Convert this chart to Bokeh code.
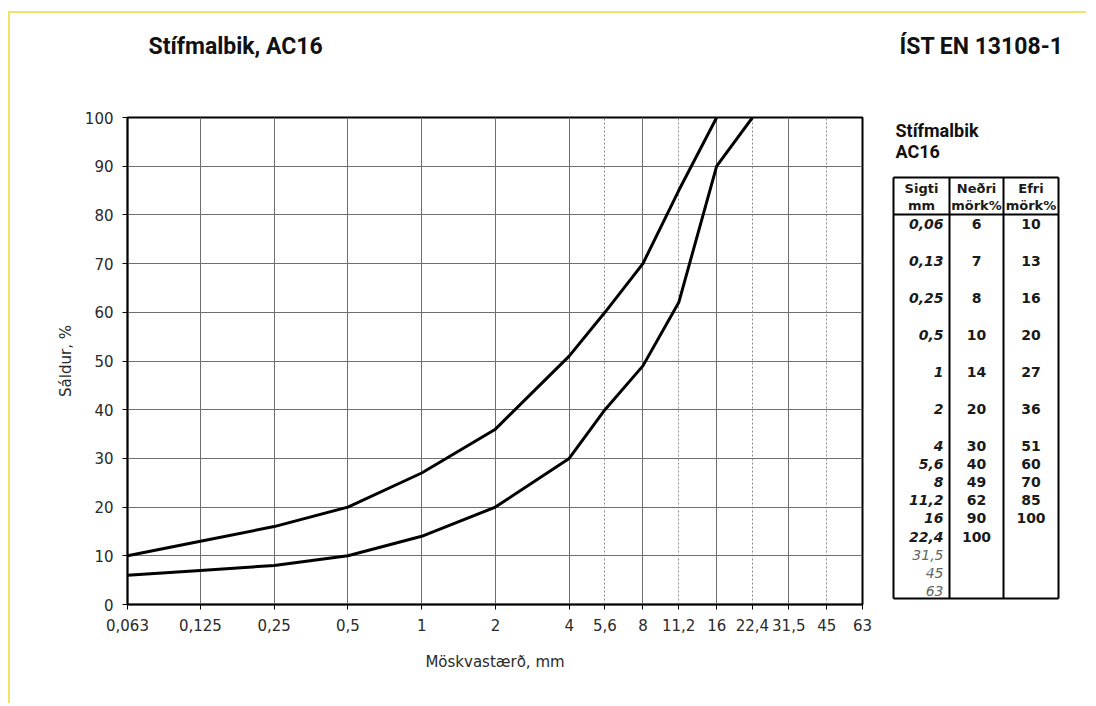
from bokeh.plotting import figure
from bokeh.models import Range1d, FixedTicker, Grid, Title
from bokeh.layouts import row
from bokeh.embed import file_html
from bokeh.resources import INLINE
from bokeh.core.properties import value

# ---------------- data ----------------
sieve_ticks = [0.063, 0.125, 0.25, 0.5, 1, 2, 4, 5.6, 8, 11.2, 16, 22.4, 31.5, 45, 63]
sieve_tick_labels = ["0,063", "0,125", "0,25", "0,5", "1", "2", "4", "5,6", "8",
                     "11,2", "16", "22,4", "31,5", "45", "63"]
dashed_ticks = [5.6, 11.2, 22.4, 45]
y_ticks = [0, 10, 20, 30, 40, 50, 60, 70, 80, 90, 100]

lower_sieve = [0.063, 0.125, 0.25, 0.5, 1, 2, 4, 5.6, 8, 11.2, 16, 22.4]
lower_pass = [6, 7, 8, 10, 14, 20, 30, 40, 49, 62, 90, 100]
upper_sieve = [0.063, 0.125, 0.25, 0.5, 1, 2, 4, 5.6, 8, 11.2, 16]
upper_pass = [10, 13, 16, 20, 27, 36, 51, 60, 70, 85, 100]

table_sieve_labels = ["0,06", "0,13", "0,25", "0,5", "1", "2", "4", "5,6", "8",
                      "11,2", "16", "22,4", "31,5", "45", "63"]
table_header_1 = ["Sigti", "Neðri", "Efri"]
table_header_2 = ["mm", "mörk%", "mörk%"]

title_text = "Stífmalbik, AC16"
standard_text = "ÍST EN 13108-1"
table_title = ["Stífmalbik", "AC16"]

TITLE_FONT = "Roboto"
FONT = "DejaVu Sans"
INK = "#1a1a1a"
TICK_INK = "#2a2a2a"
YELLOW = "#eee46a"

# ---------------- layout constants (page pixels) ----------------
PAGE_LEFT, PAGE_TOP = 10, 13          # where the figures start (after margin + border)
FRAME_L, FRAME_R, FRAME_T, FRAME_B = 127, 862, 117, 604
H = 690
CHART_W = 868
TABLE_W = 208


def add_titles(fig, text, align, offset):
    # spacer closest to the frame, then the real title further out
    fig.add_layout(Title(text=" ", text_font_size="10px", standoff=44), "above")
    fig.add_layout(Title(text=text, align=align, offset=offset, standoff=0,
                         vertical_align="middle", text_font=TITLE_FONT,
                         text_font_size="23px", text_font_style="bold",
                         text_color="#111111"), "above")


# ---------------- chart ----------------
p = figure(width=CHART_W, height=H, x_axis_type="log",
           x_range=Range1d(0.063, 63), y_range=Range1d(0, 100),
           output_backend="svg", toolbar_location=None,
           min_border_left=FRAME_L - PAGE_LEFT,
           min_border_right=PAGE_LEFT + CHART_W - FRAME_R,
           min_border_top=FRAME_T - PAGE_TOP,
           min_border_bottom=PAGE_TOP + H - FRAME_B)
p.background_fill_color = "white"
p.border_fill_color = "white"
p.outline_line_color = "black"
p.outline_line_width = 2
p.outline_line_alpha = 1
add_titles(p, title_text, "left", 21)

p.xaxis.ticker = FixedTicker(ticks=sieve_ticks)
p.xaxis.major_label_overrides = {t: l for t, l in zip(sieve_ticks, sieve_tick_labels)}
p.yaxis.ticker = FixedTicker(ticks=y_ticks)

for ax in (p.xaxis, p.yaxis):
    ax.major_tick_out = 5
    ax.major_tick_in = 0
    ax.minor_tick_out = 0
    ax.minor_tick_in = 0
    ax.axis_line_color = "black"
    ax.axis_line_width = 1.5
    ax.major_tick_line_color = "black"
    ax.major_tick_line_width = 1
    ax.major_label_text_font = FONT
    ax.major_label_text_font_size = "15px"
    ax.major_label_text_color = TICK_INK
    ax.major_label_standoff = 9
    ax.axis_label_text_font = FONT
    ax.axis_label_text_font_size = "15px"
    ax.axis_label_text_font_style = "normal"
    ax.axis_label_text_color = TICK_INK

p.xaxis.axis_label = "Möskvastærð, mm"
p.yaxis.axis_label = "Sáldur, %"
p.xaxis.axis_label_standoff = 19
p.yaxis.axis_label_standoff = 7

solid_ticks = [t for t in sieve_ticks if t not in dashed_ticks]
p.xgrid.ticker = FixedTicker(ticks=solid_ticks)
p.xgrid.grid_line_color = "#6f6f6f"
p.xgrid.grid_line_width = 1
p.ygrid.ticker = FixedTicker(ticks=y_ticks)
p.ygrid.grid_line_color = "#6f6f6f"
p.ygrid.grid_line_width = 1

dash_grid = Grid(dimension=0, ticker=FixedTicker(ticks=dashed_ticks),
                 grid_line_color="#8c8c8c", grid_line_width=1, grid_line_dash="2 2")
p.add_layout(dash_grid)

p.line(lower_sieve, lower_pass, line_color="black", line_width=3)
p.line(upper_sieve, upper_pass, line_color="black", line_width=3)

# ---------------- table panel (data units = page pixels) ----------------
TX0 = PAGE_LEFT + CHART_W
t = figure(width=TABLE_W, height=H,
           x_range=Range1d(TX0, TX0 + TABLE_W), y_range=Range1d(FRAME_B, FRAME_T),
           output_backend="svg", toolbar_location=None,
           min_border_left=0, min_border_right=0,
           min_border_top=FRAME_T - PAGE_TOP, min_border_bottom=PAGE_TOP + H - FRAME_B,
           x_axis_location=None, y_axis_location=None)
t.grid.visible = False
t.outline_line_color = None
t.background_fill_color = "white"
t.border_fill_color = "white"
add_titles(t, standard_text, "right", 23)

col_edges = [893, 949, 1003, 1058]
tbl_top, tbl_head, tbl_bottom = 177, 214, 598
row_y = [223 + 37 * min(i, 6) + 18.2 * max(0, i - 6) for i in range(len(table_sieve_labels))]
col_mid = [(col_edges[i] + col_edges[i + 1]) / 2 for i in range(3)]
sieve_right = 943

t.segment(x0=[col_edges[0]] * 3 + col_edges,
          y0=[tbl_top, tbl_head, tbl_bottom] + [tbl_top] * 4,
          x1=[col_edges[-1]] * 3 + col_edges,
          y1=[tbl_top, tbl_head, tbl_bottom] + [tbl_bottom] * 4,
          line_color="black", line_width=2)

t.text(x=[895, 895], y=[130, 151], text=table_title, text_font=value(TITLE_FONT),
       text_font_size="18px", text_font_style="bold", text_color="#111111",
       text_align="left", text_baseline="middle")

t.text(x=col_mid, y=[188] * 3, text=table_header_1, text_font=value(FONT),
       text_font_size="13px", text_font_style="bold", text_color=INK,
       text_align="center", text_baseline="middle")
t.text(x=col_mid, y=[205] * 3, text=table_header_2, text_font=value(FONT),
       text_font_size="13px", text_font_style="bold", text_color=INK,
       text_align="center", text_baseline="middle")

n_used = len(lower_sieve)
t.text(x=[sieve_right] * n_used, y=row_y[:n_used], text=table_sieve_labels[:n_used],
       text_font=value(FONT), text_font_size="14px", text_font_style="bold italic",
       text_color=INK, text_align="right", text_baseline="middle")
t.text(x=[sieve_right] * (len(row_y) - n_used), y=row_y[n_used:],
       text=table_sieve_labels[n_used:],
       text_font=value(FONT), text_font_size="14px", text_font_style="italic",
       text_color="#666666", text_align="right", text_baseline="middle")

t.text(x=[col_mid[1]] * len(lower_pass), y=row_y[:len(lower_pass)],
       text=[str(v) for v in lower_pass], text_font=value(FONT), text_font_size="14px",
       text_font_style="bold", text_color=INK, text_align="center", text_baseline="middle")
t.text(x=[col_mid[2]] * len(upper_pass), y=row_y[:len(upper_pass)],
       text=[str(v) for v in upper_pass], text_font=value(FONT), text_font_size="14px",
       text_font_style="bold", text_color=INK, text_align="center", text_baseline="middle")

layout = row(p, t, margin=(11, 0, 0, 8),
             styles={"border-top": "2px solid " + YELLOW,
                     "border-left": "2px solid " + YELLOW})

open("out.html", "w").write(file_html(layout, INLINE))
